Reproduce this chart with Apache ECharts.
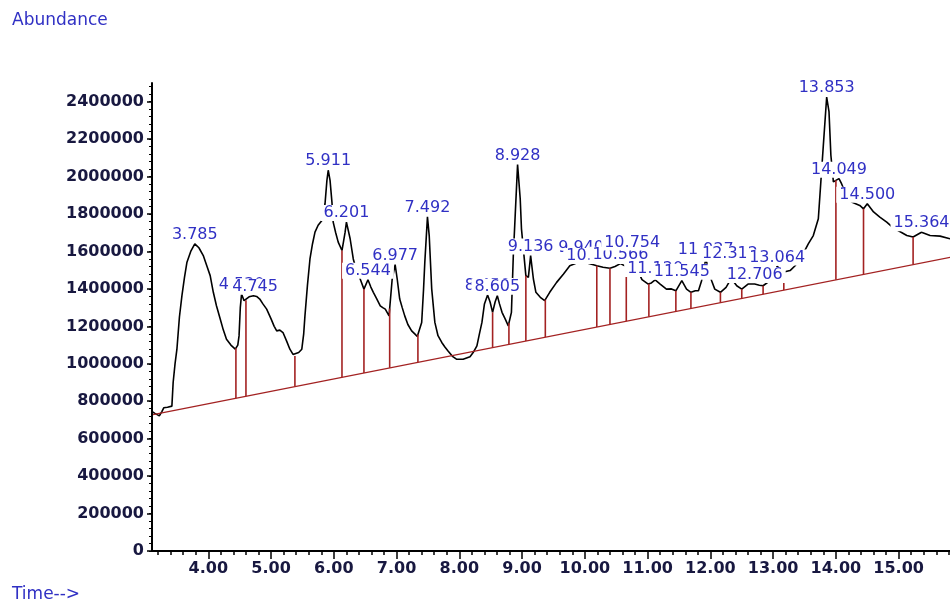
<!DOCTYPE html>
<html>
<head>
<meta charset="utf-8">
<title>TIC</title>
<script src="https://cdn.jsdelivr.net/npm/echarts@6/dist/echarts.min.js"></script>
<style>
    html, body { margin: 0; padding: 0; background: #fff; }
    #chart { width: 950px; height: 599px; }
</style>
</head>
<body>
<div id="chart"></div>
<script>
    // TIC trace: retention time (min) and abundance
    var traceTime = [
        3.10, 3.15, 3.22, 3.26, 3.29, 3.35, 3.42, 3.44, 3.47, 3.50, 3.54, 3.58, 3.62, 3.66, 3.72, 3.785,
        3.85, 3.92, 3.98, 4.03, 4.08, 4.13, 4.19, 4.24, 4.29, 4.36, 4.43, 4.47, 4.49, 4.51, 4.53, 4.57,
        4.60, 4.65, 4.72, 4.77, 4.82, 4.87, 4.93, 5.00, 5.05, 5.09, 5.14, 5.19, 5.25, 5.30, 5.35, 5.38,
        5.44, 5.49, 5.52, 5.54, 5.58, 5.62, 5.66, 5.70, 5.75, 5.81, 5.86, 5.89, 5.911, 5.94, 5.97, 5.99,
        6.03, 6.07, 6.13, 6.18, 6.201, 6.26, 6.31, 6.36, 6.42, 6.48, 6.544, 6.59, 6.63, 6.68, 6.74, 6.78,
        6.82, 6.88, 6.93, 6.977, 7.01, 7.05, 7.09, 7.13, 7.18, 7.24, 7.29, 7.33, 7.40, 7.43, 7.45, 7.492,
        7.52, 7.56, 7.61, 7.66, 7.72, 7.77, 7.82, 7.89, 7.96, 8.06, 8.17, 8.22, 8.28, 8.32, 8.36, 8.40,
        8.45, 8.49, 8.53, 8.57, 8.605, 8.64, 8.68, 8.73, 8.78, 8.83, 8.86, 8.89, 8.928, 8.97, 8.99, 9.03,
        9.06, 9.10, 9.136, 9.18, 9.22, 9.29, 9.36, 9.44, 9.55, 9.66, 9.76, 9.84, 9.94, 10.02, 10.15, 10.19,
        10.29, 10.40, 10.48, 10.566, 10.66, 10.754, 10.84, 10.91, 11.01, 11.06, 11.12, 11.20, 11.30, 11.38, 11.45, 11.545,
        11.62, 11.69, 11.76, 11.81, 11.86, 11.927, 12.02, 12.07, 12.16, 12.25, 12.312, 12.36, 12.42, 12.50, 12.60, 12.706,
        12.78, 12.84, 12.95, 13.064, 13.17, 13.27, 13.35, 13.45, 13.56, 13.64, 13.72, 13.76, 13.80, 13.853, 13.89, 13.92,
        13.96, 14.00, 14.049, 14.09, 14.17, 14.25, 14.38, 14.44, 14.50, 14.60, 14.70, 14.81, 14.90, 14.99, 15.13, 15.23,
        15.364, 15.50, 15.66, 15.82
    ];
    var traceAbund = [
        745000, 735000, 722000, 745000, 765000, 768000, 774000, 900000, 1000000, 1078000, 1250000, 1364000, 1460000, 1543000, 1600000, 1641000,
        1620000, 1578000, 1520000, 1471000, 1382000, 1310000, 1239000, 1180000, 1131000, 1100000, 1078000, 1100000, 1149000, 1300000, 1373000, 1337000,
        1340000, 1358000, 1364000, 1360000, 1346000, 1320000, 1292000, 1240000, 1200000, 1176000, 1180000, 1167000, 1120000, 1078000, 1050000, 1042000,
        1060000, 1078000, 1160000, 1256000, 1420000, 1560000, 1640000, 1703000, 1740000, 1766000, 1855000, 1980000, 2034000, 1980000, 1864000, 1757000,
        1700000, 1650000, 1605000, 1703000, 1757000, 1668000, 1560000, 1500000, 1453000, 1399000, 1449000, 1410000, 1382000, 1350000, 1310000, 1300000,
        1292000, 1256000, 1453000, 1530000, 1453000, 1346000, 1300000, 1256000, 1210000, 1176000, 1160000, 1146000, 1221000, 1400000, 1543000, 1785000,
        1685000, 1399000, 1221000, 1150000, 1114000, 1090000, 1069000, 1040000, 1024000, 1024000, 1038000, 1060000, 1096000, 1160000, 1221000, 1320000,
        1368000, 1330000, 1275000, 1330000, 1364000, 1320000, 1275000, 1240000, 1203000, 1275000, 1578000, 1793000, 2064000, 1882000, 1721000, 1578000,
        1471000, 1462000, 1578000, 1453000, 1382000, 1355000, 1337000, 1382000, 1435000, 1480000, 1524000, 1534000, 1570000, 1540000, 1528000, 1524000,
        1516000, 1510000, 1520000, 1535000, 1520000, 1600000, 1500000, 1450000, 1426000, 1432000, 1448000, 1426000, 1399000, 1400000, 1390000, 1444000,
        1399000, 1382000, 1390000, 1390000, 1444000, 1560000, 1444000, 1399000, 1382000, 1408000, 1444000, 1444000, 1417000, 1399000, 1426000, 1426000,
        1420000, 1417000, 1444000, 1520000, 1490000, 1498000, 1524000, 1570000, 1641000, 1685000, 1775000, 1972000, 2168000, 2425000, 2347000, 2114000,
        1972000, 1980000, 1989000, 1962000, 1900000, 1864000, 1846000, 1828000, 1855000, 1811000, 1784000, 1757000, 1730000, 1712000, 1685000, 1677000,
        1703000, 1685000, 1682000, 1668000
    ];

    // integrated peaks: label (retention time) and apex abundance
    var peakNames = ['3.785', '4.530', '4.745', '5.911', '6.201', '6.544', '6.977', '7.492', '8.450', '8.605', '8.928', '9.136', '9.940',
        '10.150', '10.566', '10.754', '11.120', '11.545', '11.927', '12.312', '12.706', '13.064', '13.853', '14.049', '14.500', '15.364'];
    var peakHeights = [1641000, 1373000, 1364000, 2034000, 1757000, 1449000, 1530000, 1785000, 1368000, 1364000, 2064000, 1578000, 1570000,
        1528000, 1535000, 1600000, 1458000, 1444000, 1560000, 1444000, 1426000, 1520000, 2425000, 1989000, 1855000, 1703000];

    // integration baseline end points and peak boundary (drop line) times
    var baselineTime = [3.12, 15.82];
    var baselineAbund = [729000, 1569000];
    var dropTimes = [4.44, 4.60, 5.38, 6.13, 6.48, 6.89, 7.34, 8.53, 8.79, 9.06, 9.37, 10.19, 10.40, 10.66,
        11.02, 11.45, 11.69, 12.16, 12.50, 12.84, 13.17, 14.00, 14.44, 15.23];

    // tick labels
    var xTicks = [4, 5, 6, 7, 8, 9, 10, 11, 12, 13, 14, 15];
    var yTicks = [0, 200000, 400000, 600000, 800000, 1000000, 1200000, 1400000, 1600000, 1800000, 2000000, 2200000, 2400000];

    var X_MIN = 3.103, X_MAX = 15.818, Y_MIN = 0, Y_MAX = 2500000;
    var dropColor = '#a32222';
    var labelBlue = '#3030c4';
    var axisText = '#181840';
    var font = 'DejaVu Sans';
    var labelLift = { '12.312': 18 };

    function interp(xs, ys, t) {
        if (t <= xs[0]) return ys[0];
        for (var i = 1; i < xs.length; i++) {
            if (t <= xs[i]) {
                var f = (t - xs[i - 1]) / (xs[i] - xs[i - 1]);
                return ys[i - 1] + f * (ys[i] - ys[i - 1]);
            }
        }
        return ys[ys.length - 1];
    }

    var minorX = [];
    for (var mx = 3.2; mx < X_MAX; mx += 0.2) minorX.push(Math.round(mx * 10) / 10);
    var minorY = [];
    for (var my = 0; my < Y_MAX; my += 40000) minorY.push(my);

    var traceData = traceTime.map(function (t, i) { return [t, traceAbund[i]]; });
    var baselineData = baselineTime.map(function (t, i) { return [t, baselineAbund[i]]; });
    var dropData = dropTimes.map(function (t) {
        return [t, interp(baselineTime, baselineAbund, t), interp(traceTime, traceAbund, t)];
    });
    var peakData = peakNames.map(function (n, i) {
        var item = { name: n, value: [parseFloat(n), peakHeights[i]] };
        if (labelLift[n]) item.label = { distance: 1 + labelLift[n] };
        return item;
    });

    var chart = echarts.init(document.getElementById('chart'));
    var option = {
        animation: false,
        backgroundColor: '#fff',
        title: [
            { text: 'Abundance', left: 7, top: 7, textStyle: { color: labelBlue, fontFamily: font, fontSize: 17, fontWeight: 'normal' } },
            { text: 'Time-->', left: 7, top: 581, textStyle: { color: labelBlue, fontFamily: font, fontSize: 17, fontWeight: 'normal' } }
        ],
        grid: { left: 152, right: 0, top: 83, bottom: 48 },
        xAxis: [
            {
                type: 'value', min: X_MIN, max: X_MAX, position: 'bottom',
                splitLine: { show: false },
                axisLine: { lineStyle: { color: '#000', width: 2 } },
                axisTick: { customValues: xTicks, length: 8, lineStyle: { color: '#000', width: 1.5 } },
                axisLabel: {
                    customValues: xTicks, margin: 10, color: axisText, fontFamily: font, fontSize: 16, fontWeight: 'bold',
                    formatter: function (v) { return v.toFixed(2); }
                }
            },
            {
                type: 'value', min: X_MIN, max: X_MAX, position: 'bottom',
                splitLine: { show: false },
                axisLine: { show: false },
                axisTick: { customValues: minorX, length: 4, lineStyle: { color: '#000', width: 1.5 } },
                axisLabel: { show: false }
            }
        ],
        yAxis: [
            {
                type: 'value', min: Y_MIN, max: Y_MAX, position: 'left',
                splitLine: { show: false },
                axisLine: { show: true, lineStyle: { color: '#000', width: 2 } },
                axisTick: { show: true, customValues: yTicks, length: 5, lineStyle: { color: '#000', width: 1.5 } },
                axisLabel: {
                    customValues: yTicks, margin: 8, color: axisText, fontFamily: font, fontSize: 16, fontWeight: 'bold',
                    formatter: function (v) { return String(v); }
                }
            },
            {
                type: 'value', min: Y_MIN, max: Y_MAX, position: 'left',
                splitLine: { show: false },
                axisLine: { show: false },
                axisTick: { show: true, customValues: minorY, length: 3, lineStyle: { color: '#000', width: 1 } },
                axisLabel: { show: false }
            }
        ],
        series: [
            {
                name: 'TIC', type: 'line', data: traceData, symbol: 'none', z: 2,
                lineStyle: { color: '#000', width: 1.6 }
            },
            {
                name: 'baseline', type: 'line', data: baselineData, symbol: 'none', z: 3,
                lineStyle: { color: dropColor, width: 1.3 }
            },
            {
                name: 'drops', type: 'custom', z: 3,
                encode: { x: 0, y: [1, 2] },
                renderItem: function (params, api) {
                    var t = api.value(0);
                    var p0 = api.coord([t, api.value(1)]);
                    var p1 = api.coord([t, api.value(2)]);
                    return {
                        type: 'line',
                        shape: { x1: p0[0], y1: p0[1], x2: p1[0], y2: p1[1] },
                        style: { stroke: dropColor, lineWidth: 1.6 }
                    };
                },
                data: dropData
            },
            {
                name: 'peaks', type: 'scatter', data: peakData, symbolSize: 0, z: 10,
                itemStyle: { opacity: 1 },
                label: {
                    show: true, position: 'top', distance: 1, opacity: 1,
                    formatter: '{b}', color: labelBlue, fontFamily: font, fontSize: 16, lineHeight: 16,
                    backgroundColor: '#fff', padding: [0, 3, 0, 3]
                }
            }
        ]
    };
    chart.setOption(option);
</script>
</body>
</html>
